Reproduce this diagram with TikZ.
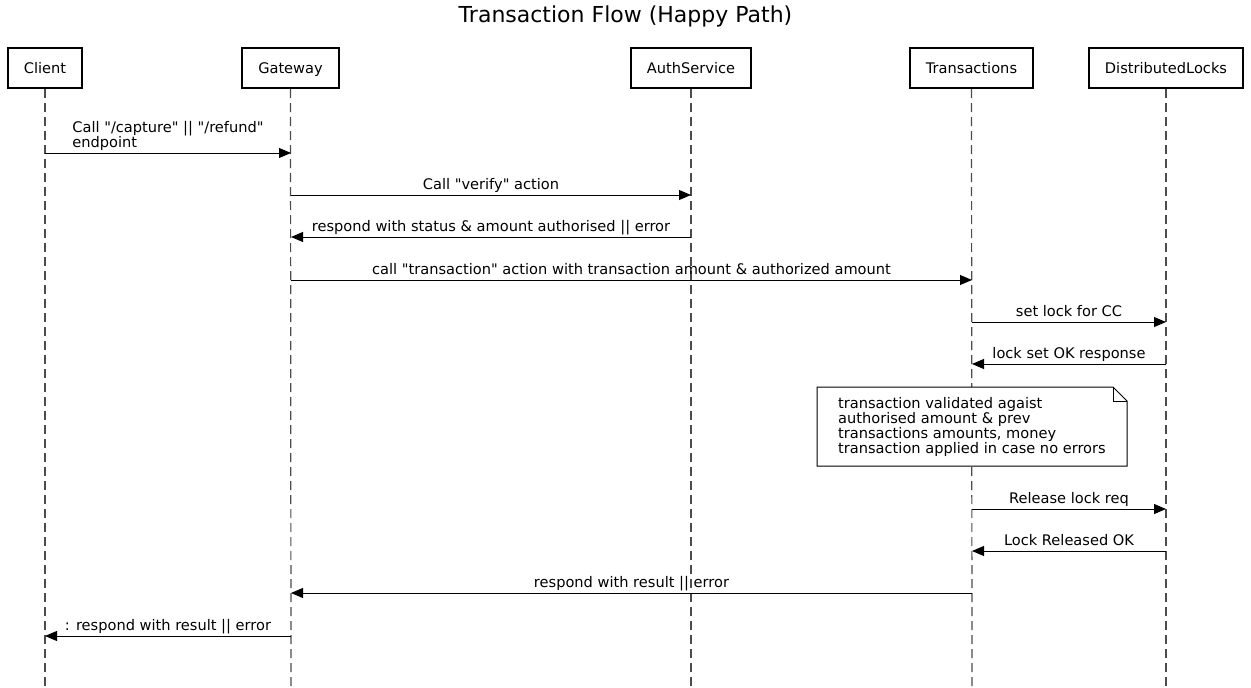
\documentclass[tikz,border=0pt]{standalone}
\usepackage{fontspec}
\setmainfont{DejaVu Sans}
\usetikzlibrary{arrows.meta,shapes.misc}
\newcommand{\qq}{\XeTeXglyph\XeTeXcharglyph"22\relax}
\tikzset{
  actor/.style={draw=black,line width=2pt,minimum height=40pt,inner sep=0pt,text height=10.5pt,text depth=0pt,font=\fontsize{14.6}{15}\selectfont,anchor=center},
  life/.style={draw=black!70,line width=1.2pt,dash pattern=on 9pt off 5pt},
  msg/.style={draw=black,line width=1pt,-{Triangle[length=12pt,width=10pt]}},
  lbl/.style={font=\fontsize{14.6}{15}\selectfont,inner sep=0pt,anchor=base},
  notebox/.style={font=\fontsize{14.6}{15}\selectfont,align=left}
}
\begin{document}
\begin{tikzpicture}[x=1pt,y=-1pt]
\useasboundingbox (0,0) rectangle (1251,688);
\node[font=\fontsize{22}{26}\selectfont] (title) at (625.5,16) {Transaction Flow (Happy Path)};
% actors
\node[actor,minimum width=74pt] (client) at (45,68) {Client};
\node[actor,minimum width=97pt] (gateway) at (290.5,68) {Gateway};
\node[actor,minimum width=120pt] (auth) at (691,68) {AuthService};
\node[actor,minimum width=123pt] (trans) at (971.5,68) {Transactions};
\node[actor,minimum width=154pt] (locks) at (1166,68) {DistributedLocks};
% lifeline ends
\coordinate (clientE) at (45,688);
\coordinate (gatewayE) at (291,688);
\coordinate (authE) at (691,688);
\coordinate (transE) at (972,688);
\coordinate (locksE) at (1166,688);
\draw[life] (client.south) -- (clientE);
\draw[life] (gateway.south) -- (gatewayE);
\draw[life] (auth.south) -- (authE);
\draw[life] (trans.south) -- (transE);
\draw[life] (locks.south) -- (locksE);
% messages
\coordinate (c1) at (45,153); \coordinate (g1) at (291,153);
\draw[msg] (c1) -- (g1);
\node[lbl,align=left,anchor=south] (l1) at (168,150.5) {Call \qq/capture\qq{} || \qq/refund\qq\\endpoint};

\coordinate (g2) at (291,195); \coordinate (a2) at (691,195);
\draw[msg] (g2) -- (a2);
\node[lbl] (l2) at (491,189) {Call \qq verify\qq{} action};

\coordinate (a3) at (691,237); \coordinate (g3) at (291,237);
\draw[msg] (a3) -- (g3);
\node[lbl] (l3) at (491,231) {respond with status \& amount authorised || error};

\coordinate (g4) at (291,280); \coordinate (t4) at (972,280);
\draw[msg] (g4) -- (t4);
\node[lbl] (l4) at (631.5,274) {call \qq transaction\qq{} action with transaction amount \& authorized amount};

\coordinate (t5) at (972,322); \coordinate (d5) at (1166,322);
\draw[msg] (t5) -- (d5);
\node[lbl] (l5) at (1069,316) {set lock for CC};

\coordinate (d6) at (1166,364); \coordinate (t6) at (972,364);
\draw[msg] (d6) -- (t6);
\node[lbl] (l6) at (1069,358) {lock set OK response};

% note
\draw[fill=white,draw=black,line width=1pt] (817,387) -- (1113,387) -- (1127,401) -- (1127,466) -- (817,466) -- cycle;
\draw[line width=1pt] (1113,387) -- (1113,401) -- (1127,401);
\node[notebox,anchor=north west,inner sep=0pt] (note) at (838,397) {transaction validated agaist\\authorised amount \& prev\\transactions amounts, money\\transaction applied in case no errors};

\coordinate (t7) at (972,509); \coordinate (d7) at (1166,509);
\draw[msg] (t7) -- (d7);
\node[lbl] (l7) at (1069,503) {Release lock req};

\coordinate (d8) at (1166,551); \coordinate (t8) at (972,551);
\draw[msg] (d8) -- (t8);
\node[lbl] (l8) at (1069,545) {Lock Released OK};

\coordinate (t9) at (972,593); \coordinate (g9) at (291,593);
\draw[msg] (t9) -- (g9);
\node[lbl] (l9) at (631.5,587) {respond with result || error};

\coordinate (g10) at (291,636); \coordinate (c10) at (45,636);
\draw[msg] (g10) -- (c10);
\node[lbl] (l10) at (168,630) {: respond with result || error};
\end{tikzpicture}
\end{document}
